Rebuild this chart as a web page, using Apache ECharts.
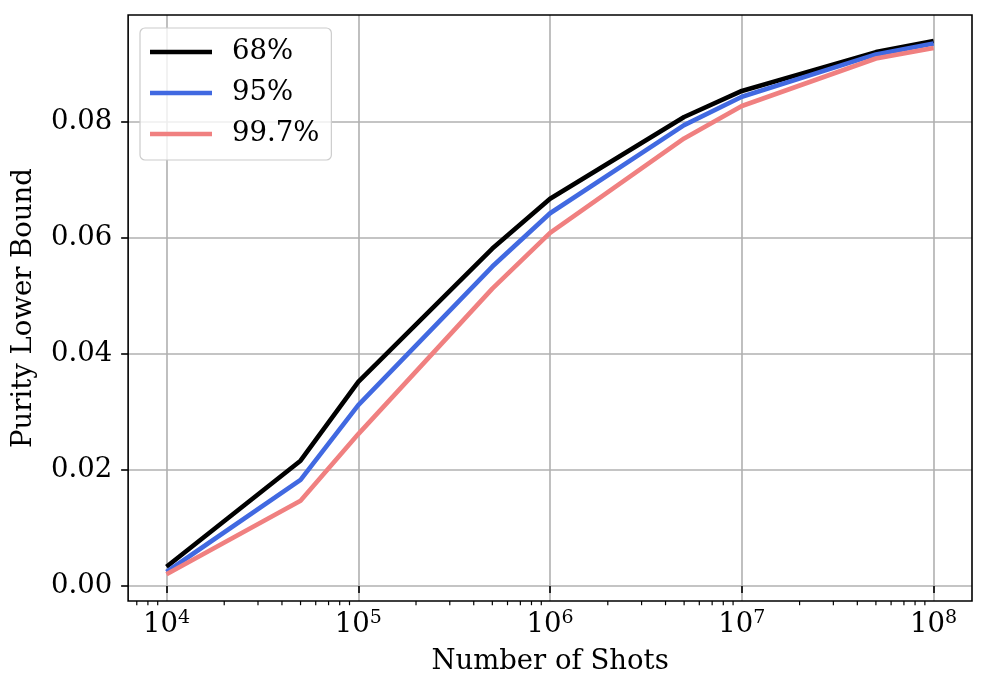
<!DOCTYPE html>
<html>
<head>
<meta charset="utf-8">
<script src="https://cdn.jsdelivr.net/npm/echarts@6/dist/echarts.min.js"></script>
<style>html,body{margin:0;padding:0;background:#fff;}#c{width:986px;height:693px;}</style>
</head>
<body>
<div id="c"></div>
<script>
const shots = [1e4, 5e4, 1e5, 5e5, 1e6, 5e6, 1e7, 5e7, 1e8];
const p68  = [0.0033, 0.0216, 0.0352, 0.0582, 0.0668, 0.0809, 0.0854, 0.0921, 0.0940];
const p95  = [0.0024, 0.0183, 0.0312, 0.0551, 0.0643, 0.0795, 0.0844, 0.0917, 0.0936];
const p997 = [0.0020, 0.0147, 0.0262, 0.0513, 0.0609, 0.0772, 0.0828, 0.0910, 0.0928];
const seriesNames = ['68%', '95%', '99.7%'];
const xTickExps = [4, 5, 6, 7, 8];
const yTicks = [0, 0.02, 0.04, 0.06, 0.08];

const FONT = 'DejaVu Serif';
const FS = 27.5;
const XMIN = 3.8, XMAX = 8.2, YMIN = -0.0026, YMAX = 0.0985;

const lx = shots.map(s => Math.log10(s));
const mk = arr => arr.map((v, i) => [lx[i], v]);

// log minor tick positions
const minor = [];
for (let n = 3; n <= 8; n++) {
  for (let k = 2; k <= 9; k++) {
    const v = Math.log10(k * Math.pow(10, n));
    if (v > XMIN && v < XMAX) minor.push([v, YMIN]);
  }
}

const chart = echarts.init(document.getElementById('c'), null, {renderer: 'canvas'});
chart.setOption({
  animation: false,
  textStyle: {fontFamily: FONT},
  grid: {left: 128, right: 14, top: 15, bottom: 92, show: true, backgroundColor: 'transparent',
         borderColor: '#000', borderWidth: 1.6, z: 10},
  legend: {
    orient: 'vertical', left: 140, top: 28,
    data: seriesNames,
    icon: 'rect', itemWidth: 62, itemHeight: 4.5, itemGap: 13,
    padding: [10, 12, 12, 10],
    borderColor: '#cccccc', borderWidth: 1.2, borderRadius: 5,
    backgroundColor: 'rgba(255,255,255,0.8)',
    textStyle: {fontFamily: FONT, fontSize: FS, color: '#000', lineHeight: 28, padding: [0, 0, 0, 15]},
    z: 12
  },
  xAxis: {
    type: 'value', min: XMIN, max: XMAX, splitNumber: 5,
    name: 'Number of Shots', nameLocation: 'middle', nameGap: 45,
    nameTextStyle: {fontFamily: FONT, fontSize: FS, color: '#000', lineHeight: 32},
    axisLine: {show: false},
    axisTick: {show: true, inside: false, length: 7, customValues: xTickExps,
               lineStyle: {color: '#000', width: 1.6}},
    axisLabel: {
      customValues: xTickExps, margin: 8, color: '#000',
      formatter: v => '{b|10}{s|' + Math.round(v) + '}',
      rich: {
        b: {fontFamily: FONT, fontSize: FS, color: '#000', lineHeight: 32},
        s: {fontFamily: FONT, fontSize: 19, color: '#000', lineHeight: 19, verticalAlign: 'top'}
      }
    },
    splitLine: {show: true, lineStyle: {color: '#b0b0b0', width: 1.6}}
  },
  yAxis: {
    type: 'value', min: YMIN, max: YMAX, splitNumber: 5,
    name: 'Purity Lower Bound', nameLocation: 'middle', nameGap: 85,
    nameTextStyle: {fontFamily: FONT, fontSize: FS, color: '#000', lineHeight: 32},
    axisLine: {show: false},
    axisTick: {show: true, inside: false, length: 7, customValues: yTicks,
               lineStyle: {color: '#000', width: 1.6}},
    axisLabel: {customValues: yTicks, margin: 16, color: '#000',
                fontFamily: FONT, fontSize: FS, formatter: v => v.toFixed(2)},
    splitLine: {show: true, lineStyle: {color: '#b0b0b0', width: 1.6}}
  },
  series: [
    {name: seriesNames[0], type: 'line', data: mk(p68), showSymbol: false, symbol: 'none',
     lineStyle: {color: '#000000', width: 4.6}, itemStyle: {color: '#000000'}},
    {name: seriesNames[1], type: 'line', data: mk(p95), showSymbol: false, symbol: 'none',
     lineStyle: {color: '#4169E1', width: 4.6}, itemStyle: {color: '#4169E1'}},
    {name: seriesNames[2], type: 'line', data: mk(p997), showSymbol: false, symbol: 'none',
     lineStyle: {color: '#F08080', width: 4.6}, itemStyle: {color: '#F08080'}},
    {type: 'custom', data: minor, silent: true, clip: false,
     renderItem: (params, api) => {
       const p = api.coord([api.value(0), YMIN]);
       return {type: 'line', shape: {x1: p[0], y1: p[1], x2: p[0], y2: p[1] + 4.2},
               style: {stroke: '#000', lineWidth: 1.2}};
     }}
  ]
});
</script>
</body>
</html>
